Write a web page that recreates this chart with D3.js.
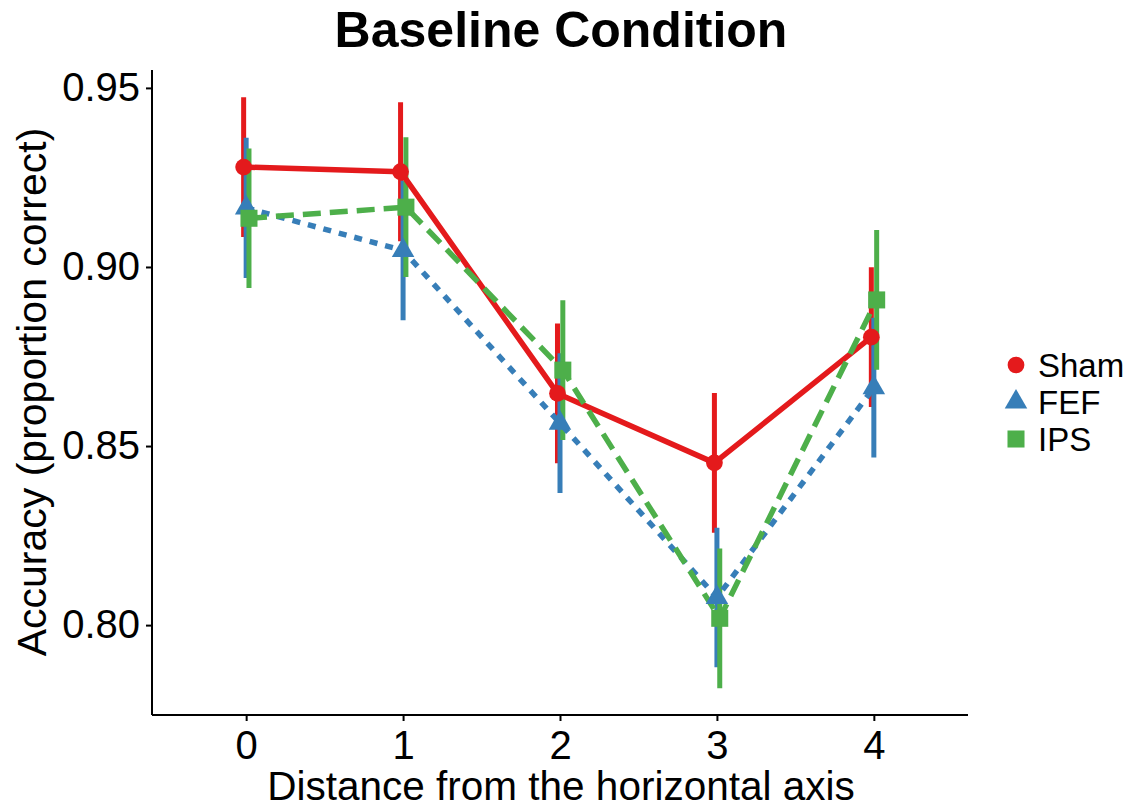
<!DOCTYPE html>
<html><head><meta charset="utf-8">
<script src="https://cdn.jsdelivr.net/npm/d3@7"></script>
<style>body{margin:0;background:#fff}svg{display:block;font-family:"Liberation Sans",Arial,sans-serif}</style>
</head><body>
<script>
const distances = [0, 1, 2, 3, 4];
const groups = ["Sham", "FEF", "IPS"];
const shamMean = [0.9279, 0.9266, 0.8647, 0.8453, 0.8804];
const fefMean  = [0.9165, 0.9046, 0.8564, 0.8077, 0.8663];
const ipsMean  = [0.9136, 0.9167, 0.8712, 0.8019, 0.8908];
const shamErr  = [0.0195, 0.0194, 0.0195, 0.0195, 0.0195];
const fefErr   = [0.0196, 0.0195, 0.0195, 0.0195, 0.0195];
const ipsErr   = [0.0195, 0.0195, 0.0195, 0.0195, 0.0195];
const yTicks = [0.80, 0.85, 0.90, 0.95];
const colors = ["#E41A1C", "#377EB8", "#4DAF4A"];
const dashes = [null, "8,8", "18,9"];
const dodge = [-0.016, 0, 0.018];

const series = [
  {name: groups[0], mean: shamMean, err: shamErr},
  {name: groups[1], mean: fefMean, err: fefErr},
  {name: groups[2], mean: ipsMean, err: ipsErr}
];

const W = 1140, H = 810;
const svg = d3.select("body").append("svg").attr("width", W).attr("height", H);
const x = d3.scaleLinear().domain([-0.6, 4.6]).range([152, 968]);
const y = d3.scaleLinear().domain([0.7749, 0.955]).range([715, 70]);

const yAxis = svg.append("g").attr("transform", "translate(152,0)")
  .call(d3.axisLeft(y).tickValues(yTicks).tickFormat(d3.format(".2f")).tickSizeOuter(0).tickSize(6).tickPadding(6));
const xAxis = svg.append("g").attr("transform", "translate(0,715)")
  .call(d3.axisBottom(x).tickValues(distances).tickFormat(d3.format("d")).tickSizeOuter(0).tickSize(6).tickPadding(4));
[yAxis, xAxis].forEach(g => {
  g.select(".domain").attr("stroke", "#000").attr("stroke-width", 2);
  g.selectAll(".tick line").attr("stroke", "#000").attr("stroke-width", 2);
  g.selectAll(".tick text").attr("fill", "#000").style("font-size", "40px").style("font-family", "Liberation Sans, Arial, sans-serif");
});
yAxis.select(".domain").attr("d", `M0,${y.range()[1]}V${y.range()[0]}`);
xAxis.select(".domain").attr("d", `M${x.range()[0]},0H${x.range()[1]}`);
xAxis.selectAll(".tick text").attr("dy", "0.85em");

series.forEach((s, i) => {
  svg.append("g").selectAll("line").data(distances).join("line")
    .attr("x1", d => x(d + dodge[i])).attr("x2", d => x(d + dodge[i]))
    .attr("y1", (d, j) => y(s.mean[j] + s.err[j])).attr("y2", (d, j) => y(s.mean[j] - s.err[j]))
    .attr("stroke", colors[i]).attr("stroke-width", 5);
});
series.forEach((s, i) => {
  const line = d3.line().x((d, j) => x(d + dodge[i])).y((d, j) => y(s.mean[j]));
  svg.append("path").datum(distances).attr("d", line)
    .attr("fill", "none").attr("stroke", colors[i]).attr("stroke-width", 5.5)
    .attr("stroke-dasharray", dashes[i]).attr("stroke-linejoin", "round");
});
const symbols = [d3.symbolCircle, d3.symbolTriangle, d3.symbolSquare];
const sizes = [220, 220, 290];
series.forEach((s, i) => {
  svg.append("g").selectAll("path").data(distances).join("path")
    .attr("transform", (d, j) => `translate(${x(d + dodge[i])},${y(s.mean[j])})`)
    .attr("d", d3.symbol().type(symbols[i]).size(sizes[i]))
    .attr("fill", colors[i]);
});

svg.append("text").attr("x", 561).attr("y", 47).attr("text-anchor", "middle")
  .style("font-size", "50px").style("font-weight", "bold").text("Baseline Condition");
svg.append("text").attr("x", 561).attr("y", 800).attr("text-anchor", "middle")
  .style("font-size", "40.5px").text("Distance from the horizontal axis");
svg.append("text").attr("transform", "translate(46,392) rotate(-90)").attr("text-anchor", "middle")
  .style("font-size", "41px").text("Accuracy (proportion correct)");

const leg = svg.append("g");
series.forEach((s, i) => {
  const ly = 365 + i * 37;
  leg.append("path").attr("transform", `translate(1016,${ly})`)
    .attr("d", d3.symbol().type(symbols[i]).size(sizes[i])).attr("fill", colors[i]);
  leg.append("text").attr("x", 1038).attr("y", ly + 12).style("font-size", "33px").text(s.name);
});
</script>
</body></html>
